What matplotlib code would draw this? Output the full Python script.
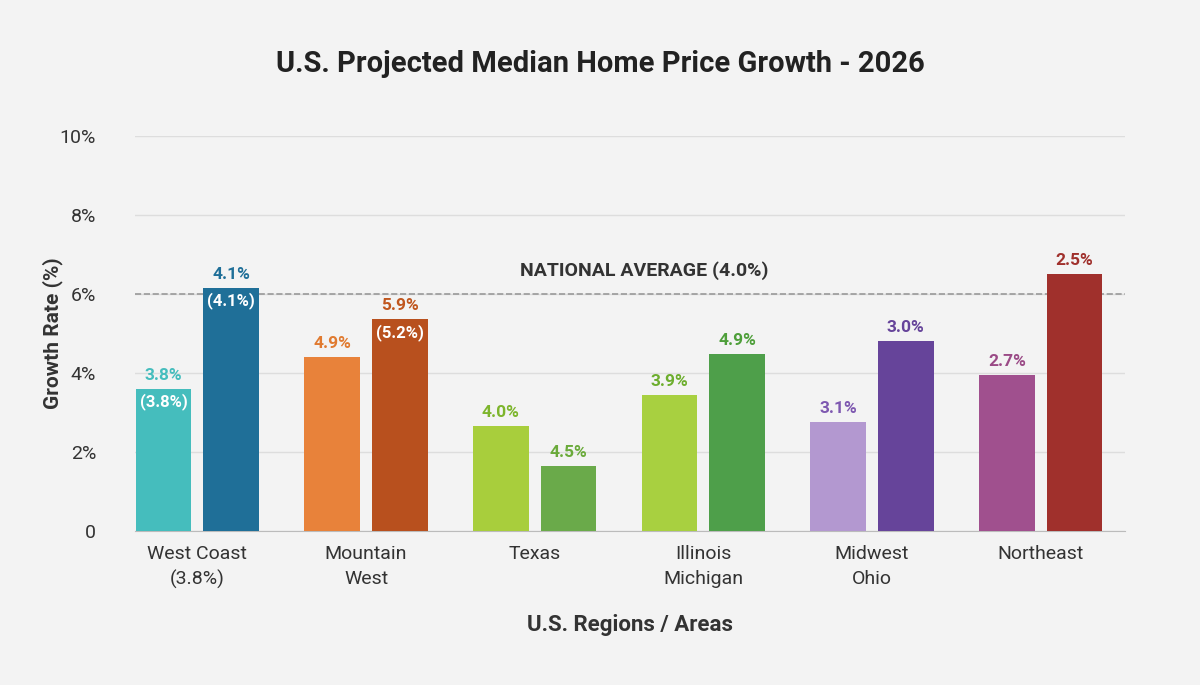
import matplotlib.pyplot as plt
import numpy as np

regions = ["West Coast\n(3.8%)", "Mountain\nWest", "Texas", "Illinois\nMichigan", "Midwest\nOhio", "Northeast"]
bar1 = [3.6, 4.4, 2.65, 3.45, 2.75, 3.95]
bar2 = [6.15, 5.35, 1.65, 4.48, 4.8, 6.5]
label1 = ["3.8%", "4.9%", "4.0%", "3.9%", "3.1%", "2.7%"]
label2 = ["4.1%", "5.9%", "4.5%", "4.9%", "3.0%", "2.5%"]
inner1 = ["(3.8%)", "", "", "", "", ""]
inner2 = ["(4.1%)", "(5.2%)", "", "", "", ""]
col1 = ["#45BDBD", "#E8823A", "#A8CE3C", "#A8D040", "#B398D0", "#A0508E"]
col2 = ["#1F6F98", "#B8501E", "#6AAA4A", "#4E9F4A", "#66449A", "#A0302C"]
lab1c = ["#45BDBD", "#E07A30", "#7DB52C", "#6DAE2E", "#7E58B0", "#9A4A86"]
lab2c = ["#1F6F98", "#C0561E", "#6AAA3A", "#4E9F3A", "#66449A", "#A0302C"]
national = 6.0

plt.rcParams['font.family'] = ['Roboto', 'DejaVu Sans']
fig = plt.figure(figsize=(12, 6.85), dpi=100, facecolor="#f3f3f3")
ax = fig.add_axes([0.1125, 0.225, 0.825, 0.577])
ax.set_facecolor("#f3f3f3")
x = np.arange(len(regions))
w = 0.33
off = 0.2
ax.bar(x - off, bar1, w, color=col1, zorder=3)
ax.bar(x + off, bar2, w, color=col2, zorder=3)
for i in range(len(regions)):
    ax.text(x[i] - off, bar1[i] + 0.15, label1[i], ha="center", va="bottom", color=lab1c[i], fontsize=12.5, fontweight="bold")
    ax.text(x[i] + off, bar2[i] + 0.15, label2[i], ha="center", va="bottom", color=lab2c[i], fontsize=12.5, fontweight="bold")
    if inner1[i]:
        ax.text(x[i] - off, bar1[i] - 0.12, inner1[i], ha="center", va="top", color="white", fontsize=12, fontweight="bold")
    if inner2[i]:
        ax.text(x[i] + off, bar2[i] - 0.12, inner2[i], ha="center", va="top", color="white", fontsize=12, fontweight="bold")
ax.axhline(national, color="#999999", ls="--", lw=1.2, zorder=2)
ax.text(2.65, national + 0.35, "NATIONAL AVERAGE (4.0%)", ha="center", va="bottom", fontsize=14, fontweight="bold", color="#333333")
ax.set_xlim(-0.37, 5.5)
ax.set_ylim(0, 10)
ax.set_yticks([0, 2, 4, 6, 8, 10])
ax.set_yticklabels(["0", "2%", "4%", "6%", "8%", "10%"], fontsize=14, color="#333333")
ax.set_xticks(x)
ax.set_xticklabels(regions, fontsize=14, color="#333333", linespacing=1.5)
ax.grid(axis="y", color="#dddddd", lw=1, zorder=0)
for s in ["top", "right", "left"]:
    ax.spines[s].set_visible(False)
ax.spines["bottom"].set_color("#bbbbbb")
ax.tick_params(length=0, pad=10)
ax.tick_params(axis="y", pad=28)
ax.set_ylabel("Growth Rate (%)", fontsize=15, fontweight="bold", color="#333333", labelpad=-2)
ax.set_xlabel("U.S. Regions / Areas", fontsize=16, fontweight="bold", color="#333333", labelpad=18)
fig.text(0.5, 0.895, "U.S. Projected Median Home Price Growth - 2026", ha="center", fontsize=21, fontweight="bold", color="#222222")
fig.savefig("out.png", facecolor=fig.get_facecolor())
